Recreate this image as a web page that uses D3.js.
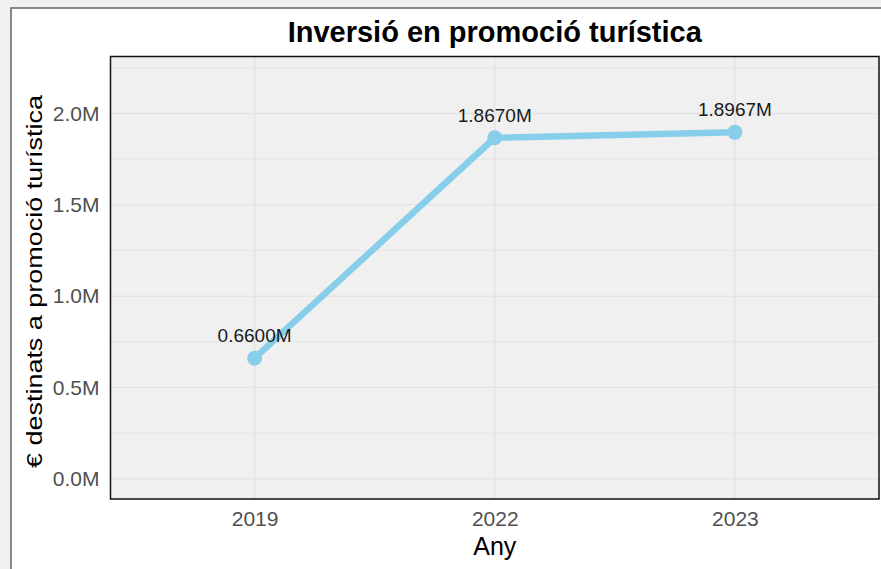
<!DOCTYPE html>
<html>
<head>
<meta charset="utf-8">
<script src="https://cdn.jsdelivr.net/npm/d3@7"></script>
<style>
  html, body { margin: 0; padding: 0; background: #f0f0f0; }
  svg { display: block; }
  text { font-family: "Liberation Sans", Arial, sans-serif; }
</style>
</head>
<body>
<svg id="chart" width="881" height="569"></svg>
<script>
const years = ["2019", "2022", "2023"];
const investment = [0.66, 1.867, 1.8967];
const pointLabels = ["0.6600M", "1.8670M", "1.8967M"];
const yTicks = [0, 0.5, 1.0, 1.5, 2.0];
const yMinor = [0.25, 0.75, 1.25, 1.75, 2.25];
const titleText = "Inversió en promoció turística";
const xTitle = "Any";
const yTitle = "€ destinats a promoció turística";

const svg = d3.select("#chart");
const W = 881, H = 569;

// outer white card with gray border
svg.append("rect").attr("x", 11).attr("y", 8).attr("width", W + 10).attr("height", H + 10)
  .attr("fill", "#ffffff").attr("stroke", "#6e6e6e").attr("stroke-width", 1.6);

const panel = { left: 110.5, right: 879, top: 56.5, bottom: 499 };

const x = d3.scalePoint().domain(years).range([panel.left, panel.right]).padding(0.6);
const y = d3.scaleLinear().domain([-0.111, 2.312]).range([panel.bottom, panel.top]);

svg.append("rect").attr("x", panel.left).attr("y", panel.top)
  .attr("width", panel.right - panel.left).attr("height", panel.bottom - panel.top)
  .attr("fill", "#f0f0f0");

const grid = svg.append("g");
grid.selectAll(".minor").data(yMinor).join("line")
  .attr("x1", panel.left).attr("x2", panel.right)
  .attr("y1", d => y(d)).attr("y2", d => y(d))
  .attr("stroke", "#e6e6e6").attr("stroke-width", 1);
grid.selectAll(".major").data(yTicks).join("line")
  .attr("x1", panel.left).attr("x2", panel.right)
  .attr("y1", d => y(d)).attr("y2", d => y(d))
  .attr("stroke", "#e3e3e3").attr("stroke-width", 1.3);
grid.selectAll(".vx").data(years).join("line")
  .attr("x1", d => x(d)).attr("x2", d => x(d))
  .attr("y1", panel.top).attr("y2", panel.bottom)
  .attr("stroke", "#e3e3e3").attr("stroke-width", 1.3);

// line + points
const data = years.map((yr, i) => ({ yr, v: investment[i], label: pointLabels[i] }));
svg.append("path").datum(data)
  .attr("d", d3.line().x(d => x(d.yr)).y(d => y(d.v)))
  .attr("fill", "none").attr("stroke", "#87CEEB").attr("stroke-width", 6.5)
  .attr("stroke-linejoin", "round");
svg.selectAll(".pt").data(data).join("circle")
  .attr("cx", d => x(d.yr)).attr("cy", d => y(d.v)).attr("r", 7.5)
  .attr("fill", "#87CEEB");
svg.selectAll(".lbl").data(data).join("text")
  .attr("x", d => x(d.yr)).attr("y", d => y(d.v) - 16)
  .attr("text-anchor", "middle").attr("font-size", 19).attr("fill", "#1a1a1a")
  .text(d => d.label);

// panel border
svg.append("rect").attr("x", panel.left).attr("y", panel.top)
  .attr("width", panel.right - panel.left).attr("height", panel.bottom - panel.top)
  .attr("fill", "none").attr("stroke", "#111").attr("stroke-width", 1.5);

// axes
const yAxis = d3.axisLeft(y).tickValues(yTicks).tickFormat(d => d3.format(".1f")(d) + "M").tickSize(0).tickPadding(11);
const gy = svg.append("g").attr("transform", `translate(${panel.left},0)`).call(yAxis);
gy.select(".domain").remove();
gy.selectAll("text").attr("font-size", 21).attr("fill", "#505050")
  .attr("font-family", '"Liberation Sans", Arial, sans-serif');

const xAxis = d3.axisBottom(x).tickSize(0).tickPadding(12);
const gx = svg.append("g").attr("transform", `translate(0,${panel.bottom})`).call(xAxis);
gx.select(".domain").remove();
gx.selectAll("text").attr("font-size", 21).attr("fill", "#505050")
  .attr("font-family", '"Liberation Sans", Arial, sans-serif');

// titles
svg.append("text").attr("x", (panel.left + panel.right) / 2).attr("y", 41.5)
  .attr("text-anchor", "middle").attr("font-size", 29).attr("font-weight", "bold")
  .attr("fill", "#000").text(titleText);
svg.append("text").attr("x", (panel.left + panel.right) / 2).attr("y", 555)
  .attr("text-anchor", "middle").attr("font-size", 25).attr("fill", "#000").text(xTitle);
svg.append("text").attr("transform", `translate(42,281.5) rotate(-90)`)
  .attr("text-anchor", "middle").attr("font-size", 22).attr("fill", "#000")
  .attr("textLength", 373).attr("lengthAdjust", "spacingAndGlyphs")
  .text(yTitle);
</script>
</body>
</html>
